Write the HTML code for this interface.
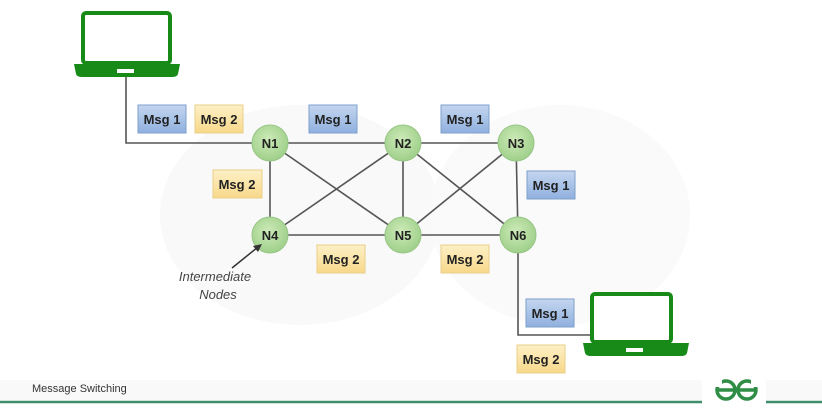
<!DOCTYPE html>
<html><head><meta charset="utf-8"><style>
body{margin:0;background:#fff;}
svg{display:block;font-family:"Liberation Sans",sans-serif;}
</style></head><body>
<svg width="822" height="415" viewBox="0 0 822 415" xmlns="http://www.w3.org/2000/svg">
<defs>
<linearGradient id="b" x1="0" y1="0" x2="0" y2="1"><stop offset="0" stop-color="#c4d6f0"/><stop offset="1" stop-color="#8fb0de"/></linearGradient>
<linearGradient id="y" x1="0" y1="0" x2="0" y2="1"><stop offset="0" stop-color="#fdf0c6"/><stop offset="1" stop-color="#f8d88a"/></linearGradient>
<radialGradient id="n" cx="0.45" cy="0.4" r="0.6"><stop offset="0" stop-color="#cdeab8"/><stop offset="1" stop-color="#9fd08a"/></radialGradient>
</defs>
<rect width="822" height="415" fill="#fff"/>
<ellipse cx="300" cy="215" rx="140" ry="110" fill="#f8f9f8"/>
<ellipse cx="560" cy="215" rx="130" ry="110" fill="#f9faf9"/>
<g stroke="#555" stroke-width="1.6" fill="none">
<polyline points="126,76 126,143 270,143"/>
<polyline points="518,235 518,335 592,335"/>
<line x1="270" y1="143" x2="403" y2="143"/><line x1="403" y1="143" x2="516" y2="143"/>
<line x1="270" y1="143" x2="270" y2="235"/><line x1="403" y1="143" x2="403" y2="235"/>
<line x1="516" y1="143" x2="518" y2="235"/>
<line x1="270" y1="235" x2="403" y2="235"/><line x1="403" y1="235" x2="518" y2="235"/>
<line x1="270" y1="143" x2="403" y2="235"/><line x1="403" y1="143" x2="270" y2="235"/>
<line x1="403" y1="143" x2="518" y2="235"/><line x1="516" y1="143" x2="403" y2="235"/>
</g>
<g fill="#fff" stroke="#178a17" stroke-width="4">
<rect x="83" y="13" width="87" height="50" rx="3"/>
<rect x="592" y="294" width="79" height="48" rx="3"/>
</g>
<path d="M74 64 H180 L178 74 Q177 77 172 77 H82 Q77 77 76 74 Z" fill="#178a17"/>
<rect x="117" y="69" width="17" height="4" fill="#fff"/>
<path d="M583 343 H689 L687 353 Q686 356 681 356 H591 Q586 356 585 353 Z" fill="#178a17"/>
<rect x="626" y="348" width="17" height="4" fill="#fff"/>
<g stroke="#97c585" stroke-width="1" fill="url(#n)">
<circle cx="270" cy="143" r="18"/><circle cx="403" cy="143" r="18"/><circle cx="516" cy="143" r="18"/>
<circle cx="270" cy="235" r="18"/><circle cx="403" cy="235" r="18"/><circle cx="518" cy="235" r="18"/>
</g>
<g font-size="13" font-weight="bold" fill="#222" text-anchor="middle">
<text x="270" y="148">N1</text><text x="403" y="148">N2</text><text x="516" y="148">N3</text>
<text x="270" y="240">N4</text><text x="403" y="240">N5</text><text x="518" y="240">N6</text>
</g>
<g stroke-width="1">
<rect x="138" y="105" width="48" height="28" fill="url(#b)" stroke="#7f9fcc"/>
<rect x="195" y="105" width="48" height="28" fill="url(#y)" stroke="#e8cf8a"/>
<rect x="309" y="105" width="48" height="28" fill="url(#b)" stroke="#7f9fcc"/>
<rect x="441" y="105" width="48" height="28" fill="url(#b)" stroke="#7f9fcc"/>
<rect x="213" y="170" width="49" height="28" fill="url(#y)" stroke="#e8cf8a"/>
<rect x="527" y="171" width="48" height="28" fill="url(#b)" stroke="#7f9fcc"/>
<rect x="317" y="245" width="48" height="28" fill="url(#y)" stroke="#e8cf8a"/>
<rect x="441" y="245" width="48" height="28" fill="url(#y)" stroke="#e8cf8a"/>
<rect x="526" y="299" width="48" height="28" fill="url(#b)" stroke="#7f9fcc"/>
<rect x="517" y="345" width="48" height="28" fill="url(#y)" stroke="#e8cf8a"/>
</g>
<g font-size="13" font-weight="bold" fill="#222" text-anchor="middle">
<text x="162" y="124">Msg 1</text><text x="219" y="124">Msg 2</text>
<text x="333" y="124">Msg 1</text><text x="465" y="124">Msg 1</text>
<text x="237" y="189">Msg 2</text><text x="551" y="190">Msg 1</text>
<text x="341" y="264">Msg 2</text><text x="465" y="264">Msg 2</text>
<text x="550" y="318">Msg 1</text><text x="541" y="364">Msg 2</text>
</g>
<line x1="232" y1="268" x2="258" y2="247" stroke="#333" stroke-width="1.5"/>
<polygon points="262,244 253,246 258,252" fill="#333"/>
<g font-size="13" font-style="italic" fill="#444" text-anchor="middle">
<text x="215" y="281">Intermediate</text><text x="218" y="299">Nodes</text>
</g>
<rect x="0" y="380" width="822" height="20" fill="#f9f9f9"/>
<text x="32" y="392" font-size="11" fill="#333">Message Switching</text>
<line x1="0" y1="402" x2="702" y2="402" stroke="#3f8e6a" stroke-width="2.5"/>
<line x1="766" y1="402" x2="822" y2="402" stroke="#3f8e6a" stroke-width="2.5"/>
<rect x="702" y="376" width="64" height="30" fill="#fff"/>
<g fill="none" stroke="#2f8d46" stroke-width="3.5">
<circle cx="726" cy="390" r="9"/>
<circle cx="747" cy="390" r="9"/>
</g>
<rect x="714" y="378" width="8" height="9" fill="#fff"/>
<rect x="751" y="378" width="8" height="9" fill="#fff"/>
<line x1="717" y1="390" x2="756" y2="390" stroke="#2f8d46" stroke-width="3.5"/>
</svg>
</body></html>
